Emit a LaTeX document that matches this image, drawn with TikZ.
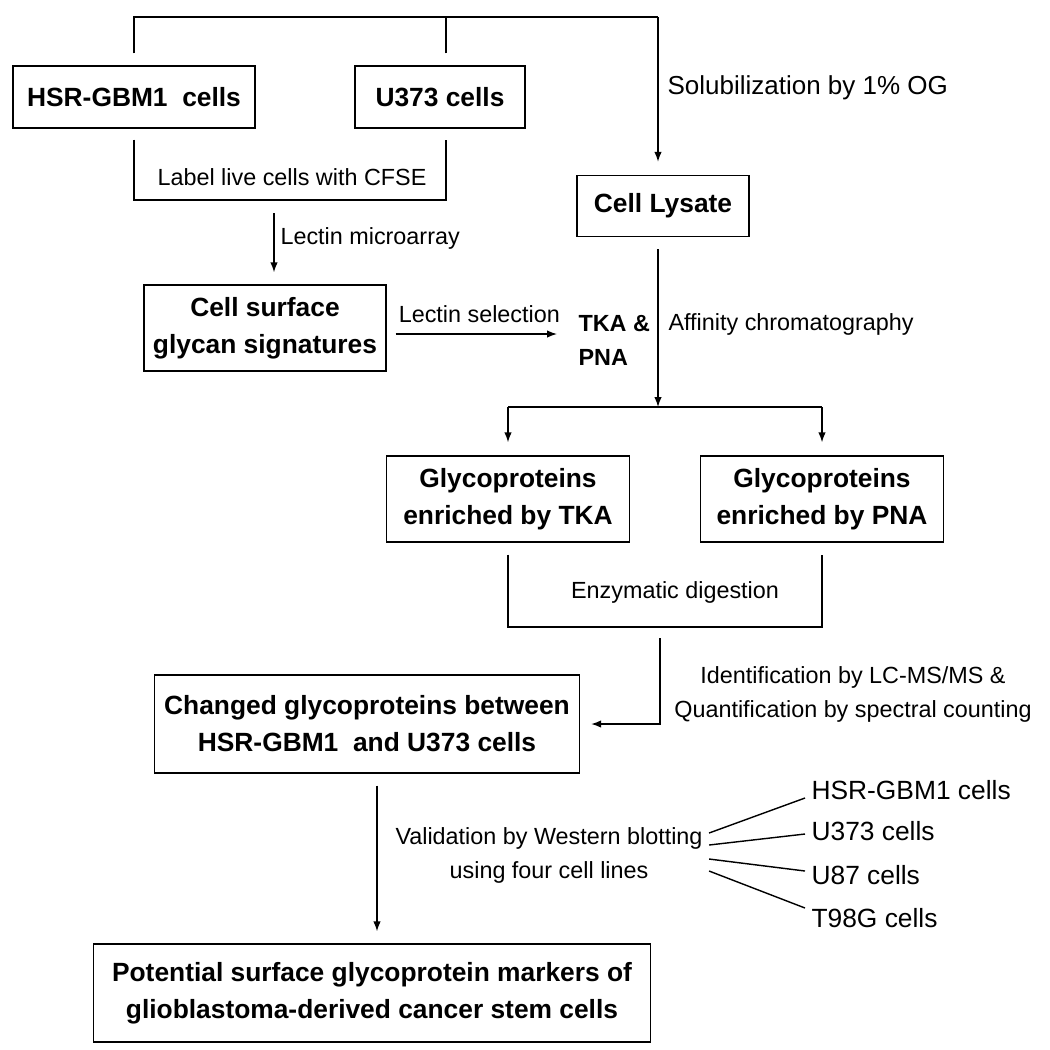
\documentclass[tikz,border=0pt]{standalone}
\usepackage{fontspec}
\setmainfont{Liberation Sans}
\usetikzlibrary{arrows.meta}

\tikzset{
  box/.style={draw, line width=0.8pt, inner sep=0pt, align=center,
    font=\bfseries\fontsize{15}{21}\selectfont},
  lbl/.style={align=center, font=\fontsize{13.3}{19.3}\selectfont},
  cell/.style={anchor=west, font=\fontsize{15}{18}\selectfont},
  arr/.style={-{Latex[length=0.2cm, width=0.15cm]}},
}

\begin{document}
\begin{tikzpicture}[x=0.02cm, y=-0.02cm, line width=0.8pt]
  \useasboundingbox (0,0) rectangle (1050,1049);

  % boxes
  \node[box, minimum width=4.84cm, minimum height=1.24cm] (hsr) at (134,97) {HSR-GBM1~~cells};
  \node[box, minimum width=3.4cm, minimum height=1.24cm] (u373) at (440,97) {U373 cells};
  \node[box, minimum width=4.84cm, minimum height=1.72cm] (surf) at (265,328) {Cell surface\\glycan signatures};
  \node[box, minimum width=3.44cm, minimum height=1.22cm] (lysate) at (663,206) {Cell Lysate};
  \node[box, minimum width=4.86cm, minimum height=1.72cm] (tka) at (508,499) {Glycoproteins\\enriched by TKA};
  \node[box, minimum width=4.86cm, minimum height=1.72cm] (pna) at (822,499) {Glycoproteins\\enriched by PNA};
  \node[box, minimum width=8.5cm, minimum height=1.96cm] (changed) at (367,724) {Changed glycoproteins between\\HSR-GBM1~~and U373 cells};
  \node[box, minimum width=11.14cm, minimum height=1.96cm] (markers) at (372,993) {Potential surface glycoprotein markers of\\glioblastoma-derived cancer stem cells};

  \node[lbl, font=\bfseries\fontsize{13.3}{19.3}\selectfont, align=left, anchor=west] (tkapna) at (572,340) {TKA \&\\PNA};

  \coordinate (top) at (658,17);
  \coordinate (cfse) at (274,200);
  \coordinate (split) at (658,407);
  \coordinate (enz) at (660,627);

  % solubilization branch
  \draw[shorten <=0.24cm] (hsr.north) |- (top);
  \draw[shorten <=0.24cm] ([xshift=0.12cm]u373.north) -- ([xshift=0.12cm]u373.north |- top);
  \draw[arr, shorten >=0.26cm] (top) -- (top |- lysate.north);
  \node[anchor=west, font=\fontsize{14.8}{18}\selectfont] (sol) at (661,88) {Solubilization by 1\% OG};

  % CFSE labelling
  \draw[shorten <=0.22cm] (hsr.south) |- (cfse) -| ([xshift=0.12cm, yshift=-0.22cm]u373.south);
  \node[lbl] (lcfse) at (292,177) {Label live cells with CFSE};
  \draw[arr, shorten <=0.26cm, shorten >=0.24cm] (cfse) -- (cfse |- surf.north)
    node[lbl, midway, right, yshift=0.08cm] (lmicro) {Lectin microarray};
  \draw[arr, shorten <=0.18cm, shorten >=0.3cm] ([yshift=-0.12cm]surf.east) -- ([yshift=-0.12cm]surf.east -| tkapna.west)
    node[lbl, midway, above, yshift=0.1cm] (lsel) {Lectin selection};

  % affinity chromatography
  \draw[arr, shorten <=0.24cm] (lysate.south -| split) -- (split);
  \node[lbl, anchor=west] (aff) at (662,324) {Affinity chromatography};
  \draw (tka.north |- split) -- (pna.north |- split);
  \draw[arr, shorten >=0.26cm] (tka.north |- split) -- (tka.north);
  \draw[arr, shorten >=0.26cm] (pna.north |- split) -- (pna.north);

  % digestion and identification
  \draw[shorten <=0.24cm] (tka.south) |- (enz) -| ([yshift=-0.24cm]pna.south);
  \node[lbl] (ldig) at (675,592) {Enzymatic digestion};
  \draw[arr, shorten <=0.22cm, shorten >=0.22cm] (enz) |- (changed.east);
  \node[lbl] (lms) at (853,694) {Identification by LC-MS/MS \&\\Quantification by spectral counting};

  % validation
  \draw[arr, shorten <=0.24cm, shorten >=0.24cm] ([xshift=0.2cm]changed.south) -- ([xshift=0.2cm]changed.south |- markers.north);
  \node[lbl] (valid) at (549,855) {Validation by Western blotting\\using four cell lines};
  \node[cell] (c1) at (805,790) {HSR-GBM1 cells};
  \node[cell] (c2) at (805,831) {U373 cells};
  \node[cell] (c3) at (805,875) {U87 cells};
  \node[cell] (c4) at (805,918) {T98G cells};
  \foreach \c/\a/\b in {c1/0.44/-0.16, c2/0.2/-0.06, c3/-0.08/0.08, c4/-0.32/0.2}
    \draw ([yshift=\a cm]valid.east) -- ([yshift=\b cm]\c.west);
\end{tikzpicture}
\end{document}
